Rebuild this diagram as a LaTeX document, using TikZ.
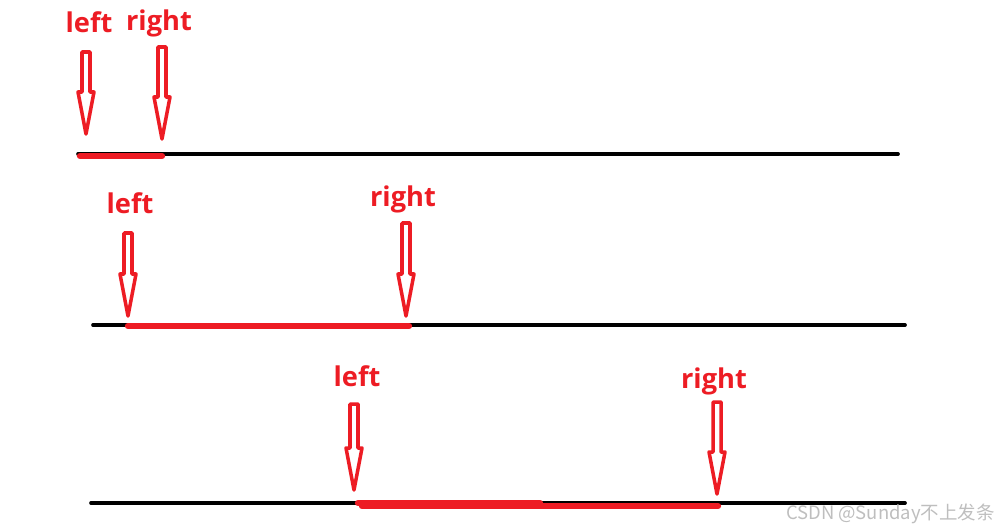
\documentclass[tikz,border=0pt]{standalone}
\usepackage{fontspec}
\setmainfont{Open Sans}
\newfontfamily\cjkfont{Noto Sans CJK SC}
\usetikzlibrary{positioning}
\definecolor{paintred}{RGB}{237,28,36}
\definecolor{markgray}{RGB}{190,190,190}

% hollow red arrow: x, top y, tip y
\newcommand{\hollowarrow}[3]{%
  \draw[arrline] ({#1-4},#2) -- ({#1+4},#2) -- ({#1+4},{#3-42}) -- ({#1+8},{#3-42})
    -- (#1,#3) -- ({#1-8},{#3-42}) -- ({#1-4},{#3-42}) -- cycle;}

\begin{document}
\begin{tikzpicture}[x=0.02cm,y=-0.02cm,
      axisline/.style={line width=2.1pt,black,line cap=round},
      redspan/.style={line width=3.6pt,paintred,line cap=round},
      arrline/.style={draw=paintred,line width=2pt,line join=round,fill=white},
      lbl/.style={text=paintred,font=\bfseries\fontsize{15.5}{18}\selectfont,inner sep=0pt}
    ]
    \useasboundingbox (0,0) rectangle (1000,531);

    % first row
    \draw[axisline] (78,154) -- (898,154);
    \draw[redspan] (80,156) -- (162,156);
    \node[lbl] (l1) at (89,22) {left};
    \node[lbl] (r1) at (159,23) {right};
    \hollowarrow{86}{52}{134}
    \hollowarrow{162}{47}{139}

    % second row
    \draw[axisline] (93,325) -- (905,325);
    \draw[redspan] (128,326) -- (409,326);
    \node[lbl] (l2) at (130,203) {left};
    \node[lbl] (r2) at (403,199) {right};
    \hollowarrow{128}{233}{316}
    \hollowarrow{406}{223}{316}

    % third row
    \draw[axisline] (91,503) -- (905,503);
    \draw[redspan] (358,503) -- (540,503);
    \draw[redspan] (362,506) -- (718,506);
    \node[lbl] (l3) at (357,376) {left};
    \node[lbl] (r3) at (714,381) {right};
    \hollowarrow{354}{404}{490}
    \hollowarrow{717}{402}{494}

    \node[text=markgray,font=\cjkfont\fontsize{10.5}{12}\selectfont,inner sep=0pt,anchor=east]
      (mark) at (995,514) {CSDN @Sunday不上发条};
  \end{tikzpicture}
\end{document}
